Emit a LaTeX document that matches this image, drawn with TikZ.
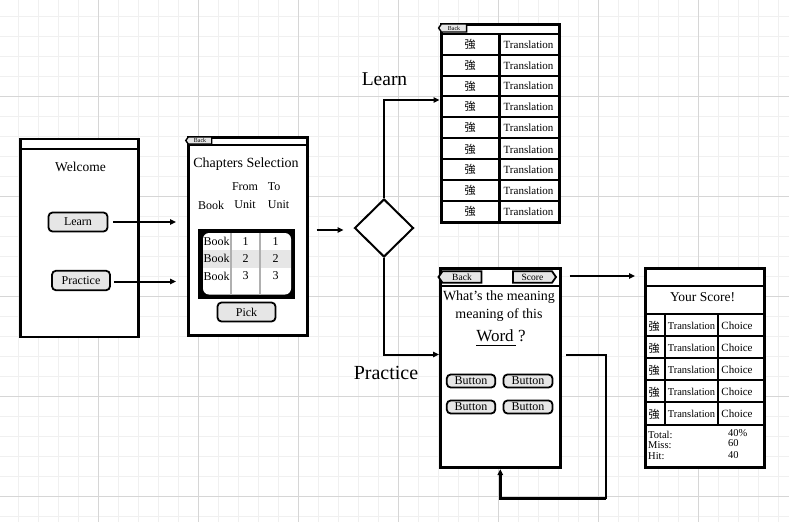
\documentclass[tikz,border=0pt]{standalone}
\usepackage{fontspec}
\setmainfont{Liberation Serif}
\newfontfamily\cjk{Noto Sans CJK JP}
\usetikzlibrary{arrows.meta,shapes.geometric,shapes.symbols}
\definecolor{minorgrid}{HTML}{F0F0F0}
\definecolor{majorgrid}{HTML}{D6D6D6}
\definecolor{btnfill}{HTML}{E6E6E6}
\definecolor{sepgray}{HTML}{B0B0B0}
\tikzset{
  screen/.style={draw, line width=2.6pt, fill=white, inner sep=0pt, anchor=north west},
  btn/.style={draw, line width=1.8pt, fill=btnfill, rounded corners=4pt, inner sep=0pt, font=\fontsize{12}{14}\selectfont},
  ptr/.style={signal, draw, line width=1.8pt, fill=btnfill, inner sep=0pt, signal pointer angle=110},
  txt/.style={inner sep=0pt},
  conn/.style={line width=2pt, -{Triangle[length=6pt,width=5.5pt]}},
  plain/.style={line width=2pt},
  sep/.style={line width=2.2pt},
  kj/.style={inner sep=0pt, font=\cjk\fontsize{11}{12}\selectfont},
  tr/.style={inner sep=0pt, font=\fontsize{11}{12}\selectfont},
}
\begin{document}
\begin{tikzpicture}[x=1pt,y=-1pt]
\useasboundingbox (0,0) rectangle (789,522);
% grid
\foreach \gx in {18,38,...,778} \draw[minorgrid, line width=0.8pt] (\gx,0) -- (\gx,522);
\foreach \gy in {16,36,...,516} \draw[minorgrid, line width=0.8pt] (0,\gy) -- (789,\gy);
\foreach \gx in {98,198,...,698} \draw[majorgrid, line width=1pt] (\gx,0) -- (\gx,522);
\foreach \gy in {96,196,...,496} \draw[majorgrid, line width=1pt] (0,\gy) -- (789,\gy);

% ---- Screen 1: Welcome
\node[screen, minimum width=118pt, minimum height=198pt] (s1) at (19,137.5) {};
\draw[sep] (s1.west |- 0,149) -- (s1.east |- 0,149);
\node[txt, font=\fontsize{13.5}{15}\selectfont] (welcome) at (80.5,167) {Welcome};
\node[btn, minimum width=59pt, minimum height=19pt] (b1) at (78,222) {Learn};
\node[btn, minimum width=58pt, minimum height=19.5pt] (b2) at (81,280.5) {Practice};

% ---- Screen 2: Chapters
\node[screen, minimum width=119pt, minimum height=198pt] (s2) at (187,136) {};
\draw[sep] (s2.west |- 0,145) -- (s2.east |- 0,145);
\node[ptr, signal to=west, minimum width=26pt, minimum height=7pt, line width=1.4pt, font=\fontsize{6}{6}\selectfont] (bk2) at (200,140.5) {Back};
\node[txt, font=\fontsize{14}{16}\selectfont] (chap) at (246,164.5) {Chapters Selection};
\node[txt, font=\fontsize{12}{14}\selectfont] (from) at (245,187) {From};
\node[txt, font=\fontsize{12}{14}\selectfont] (to) at (274,187) {To};
\node[txt, font=\fontsize{12}{14}\selectfont] (bookh) at (211,205) {Book};
\node[txt, font=\fontsize{12}{14}\selectfont] (unit1) at (245,205) {Unit};
\node[txt, font=\fontsize{12}{14}\selectfont] (unit2) at (278.5,205) {Unit};
\fill[black] (198,228.5) rectangle (295,299);
\fill[white, rounded corners=6pt] (203,233) rectangle (291,294.5);
\fill[btnfill] (203,250) rectangle (291,267.5);
\draw[sepgray, line width=1.6pt] (231,233) -- (231,294.5) (260,233) -- (260,294.5);
\foreach \r/\yy in {1/241.5,2/258.5,3/276}{
  \node[txt, font=\fontsize{12}{14}\selectfont] (tb\r) at (216.5,\yy) {Book};
  \node[txt, font=\fontsize{12}{14}\selectfont] (tf\r) at (245.5,\yy) {\r};
  \node[txt, font=\fontsize{12}{14}\selectfont] (tt\r) at (275.5,\yy) {\r};
}
\node[btn, minimum width=58pt, minimum height=19pt] (pick) at (246.5,312) {Pick};

% ---- Decision
\node[diamond, draw, line width=2pt, fill=white, minimum width=59pt, minimum height=58pt, inner sep=0pt] (d) at (384,228) {};
\node[txt, font=\fontsize{19.5}{22}\selectfont] (llearn) at (384.5,79) {Learn};
\node[txt, font=\fontsize{20}{22}\selectfont] (lprac) at (386,373) {Practice};

% ---- Screen 3: Learn list
\node[screen, minimum width=118pt, minimum height=198pt] (s3) at (440,23) {};
\node[ptr, signal to=west, minimum width=28pt, minimum height=8pt, line width=1.4pt, font=\fontsize{6}{6}\selectfont] (bk3) at (454,28) {Back};
\foreach \yy in {34,55,76,96,117,138,159,180,201} \draw[sep] (s3.west |- 0,\yy) -- (s3.east |- 0,\yy);
\draw[sep] (499.5,34) -- (499.5,221);
\foreach \i/\yy in {1/44.5,2/65.5,3/86,4/106.5,5/127.5,6/149.5,7/169.5,8/190.5,9/211.5}{
  \node[kj] (lk\i) at (470,\yy) {強};
  \node[tr] (lt\i) at (528.5,\yy) {Translation};
}

% ---- Screen 4: Practice
\node[screen, minimum width=120pt, minimum height=199pt] (s4) at (439,267) {};
\draw[sep] (s4.west |- 0,286) -- (s4.east |- 0,286);
\node[ptr, signal to=west, minimum width=43pt, minimum height=11.5pt, font=\fontsize{9.5}{10}\selectfont] (bk4) at (462,277) {Back};
\node[ptr, signal to=east, minimum width=43pt, minimum height=11.5pt, font=\fontsize{9.5}{10}\selectfont] (score) at (532.5,277) {Score};
\node[txt, font=\fontsize{14}{16}\selectfont] (q1) at (499,297) {What's the meaning};
\node[txt, font=\fontsize{14}{16}\selectfont] (q2) at (499,315.5) {meaning of this};
\node[txt, font=\fontsize{17}{19}\selectfont] (word) at (495,336) {Word};
\node[txt, font=\fontsize{17}{19}\selectfont] (qm) at (522,336) {?};
\draw[line width=1.8pt] (476,345.5) -- (516,345.5);
\node[btn, minimum width=48.5pt, minimum height=13pt, rounded corners=4pt] (a1) at (471,381) {Button};
\node[btn, minimum width=49pt, minimum height=13pt, rounded corners=4pt] (a2) at (528,381) {Button};
\node[btn, minimum width=48.5pt, minimum height=13pt, rounded corners=4pt] (a3) at (471,407) {Button};
\node[btn, minimum width=49pt, minimum height=13pt, rounded corners=4pt] (a4) at (528,407) {Button};

% ---- Screen 5: Score
\node[screen, minimum width=119pt, minimum height=199pt] (s5) at (644,267) {};
\foreach \yy in {286,314,336,358,380,402,425} \draw[sep] (s5.west |- 0,\yy) -- (s5.east |- 0,\yy);
\draw[sep] (665,314) -- (665,425) (718,314) -- (718,425);
\node[txt, font=\fontsize{13.5}{15}\selectfont] (ys) at (702.5,297.5) {Your Score!};
\foreach \i/\yy in {1/326,2/348,3/370,4/392,5/414}{
  \node[kj] (sk\i) at (654,\yy) {強};
  \node[tr, font=\fontsize{10.5}{12}\selectfont] (st\i) at (691.5,\yy) {Translation};
  \node[tr] (sc\i) at (737,\yy) {Choice};
}
\node[txt, anchor=west, font=\fontsize{10.5}{12}\selectfont] (tot) at (648,434.5) {Total:};
\node[txt, anchor=west, font=\fontsize{10.5}{12}\selectfont] (miss) at (648,445.5) {Miss:};
\node[txt, anchor=west, font=\fontsize{10.5}{12}\selectfont] (hit) at (648,456.5) {Hit:};
\node[txt, anchor=west, font=\fontsize{10.5}{12}\selectfont] (tv) at (728,433) {40\%};
\node[txt, anchor=west, font=\fontsize{10.5}{12}\selectfont] (mv) at (728,443.5) {60};
\node[txt, anchor=west, font=\fontsize{10.5}{12}\selectfont] (hv) at (728,455.5) {40};

% ---- Connectors
\draw[conn, shorten <=5pt, shorten >=11pt] (b1.east) -- (b1.east -| s2.west);
\draw[conn, shorten <=3pt, shorten >=11pt] ([yshift=-1pt]b2.east) -- ([yshift=-1pt]b2.east -| s2.west);
\draw[conn, shorten <=8pt, shorten >=10pt] ([yshift=-2pt]d.west -| s2.east) -- ([yshift=-2pt]d.west);
\coordinate (lin) at (439.5,100);
\coordinate (pin) at (439,354.5);
\draw[conn] (d.north) |- (lin);
\draw[conn] (d.south) |- (pin);
\draw[conn, shorten <=8pt, shorten >=9pt] (s4.east |- 0,276) -- (s5.west |- 0,276);
\coordinate (r0) at (566,355);
\coordinate (r1) at (606,498.5);
\draw[plain, line width=2.4pt] (r0) -| (r1);
\draw[conn, line width=2.4pt, shorten >=0.5pt] (r1) -| (s4.south);
\end{tikzpicture}
\end{document}
